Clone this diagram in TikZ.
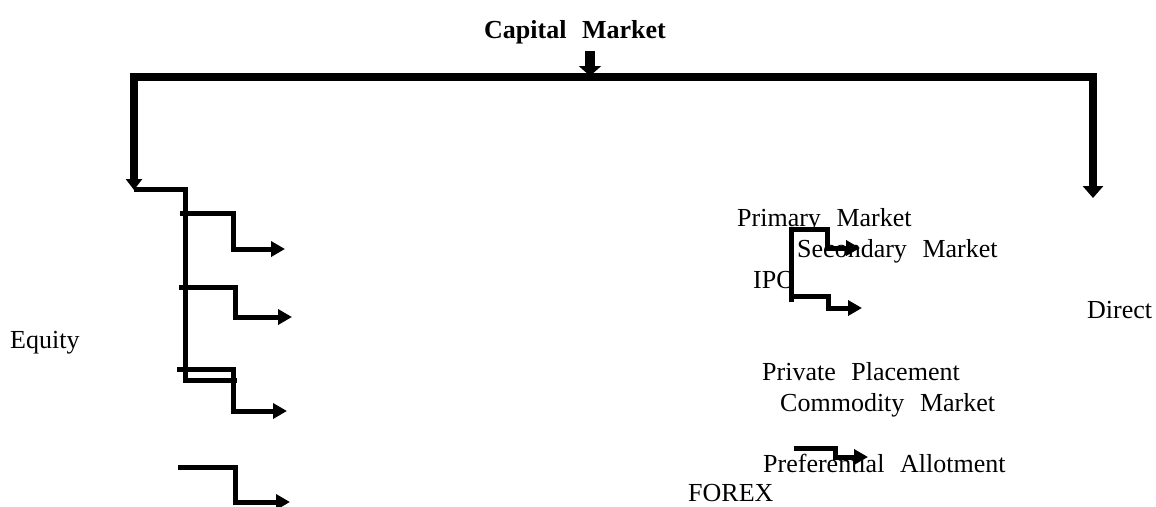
\documentclass[tikz,border=0pt]{standalone}
\usepackage{fontspec}
\setmainfont{Liberation Serif}
\usetikzlibrary{arrows.meta}
\newcommand{\wgap}{\hspace{0.6em}}
\tikzset{
  txt/.style={anchor=base west, inner sep=0pt, font=\fontsize{26}{30}\selectfont},
  conn/.style={line width=5pt, line join=miter, -{Triangle[length=14pt,width=15pt]}},
  mainbar/.style={line width=8pt, line join=miter,
     {Triangle[length=11pt,width=16pt]}-{Triangle[length=12pt,width=20pt]}},
  toparrow/.style={line width=10pt, -{Triangle[length=10pt,width=22pt]}}
}
\begin{document}
\begin{tikzpicture}[x=1pt,y=-1pt]
\useasboundingbox (0,0) rectangle (1156,506);
% texts
\node[txt, font=\fontsize{26}{30}\selectfont\bfseries] (cap) at (484,38) {Capital\wgap Market};
\node[txt] (prim) at (737,226) {Primary\wgap Market};
\node[txt] (sec) at (797,257) {Secondary\wgap Market};
\node[txt] (ipo) at (753,288) {IPO};
\node[txt] (dir) at (1087,318) {Direct};
\node[txt] (eq) at (10,348) {Equity};
\node[txt] (priv) at (762,380) {Private\wgap Placement};
\node[txt] (comm) at (780,411) {Commodity\wgap Market};
\node[txt] (pref) at (763,472) {Preferential\wgap Allotment};
\node[txt] (forex) at (688,501) {FOREX};
% coordinates
\coordinate (capA) at (590,51);
\coordinate (capB) at (590,76);
\coordinate (lTip) at (134,190);
\coordinate (rTip) at (1093,198);
\coordinate (trunkS) at (134,189);
\coordinate (trunkE) at (237,380);
\coordinate (b1s) at (180,213); \coordinate (b1e) at (285,249);
\coordinate (b2s) at (179,287); \coordinate (b2e) at (292,317);
\coordinate (b3s) at (177,369); \coordinate (b3e) at (287,411);
\coordinate (b4s) at (178,467); \coordinate (b4e) at (290,502);
\coordinate (r1s) at (791,302); \coordinate (r1e) at (860,248);
\coordinate (r2s) at (791,296); \coordinate (r2e) at (862,308);
\coordinate (r3s) at (794,448); \coordinate (r3e) at (868,457);
% connectors
\draw[toparrow] (capA) -- (capB);
\draw[mainbar] (lTip) -- (134,77) -- (1093,77) -- (rTip);
\draw[line width=5pt, line join=miter] (trunkS) -| (185,380) -- (trunkE);
\draw[conn] (b1s) -- ++(53,0) |- (b1e);
\draw[conn] (b2s) -- ++(56,0) |- (b2e);
\draw[conn] (b3s) -- ++(56,0) |- (b3e);
\draw[conn] (b4s) -- ++(57,0) |- (b4e);
\draw[conn] (r1s) -- (791,229) -- (827,229) |- (r1e);
\draw[conn] (r2s) -- ++(37,0) |- (r2e);
\draw[conn] (r3s) -- ++(41,0) |- (r3e);
\end{tikzpicture}
\end{document}
